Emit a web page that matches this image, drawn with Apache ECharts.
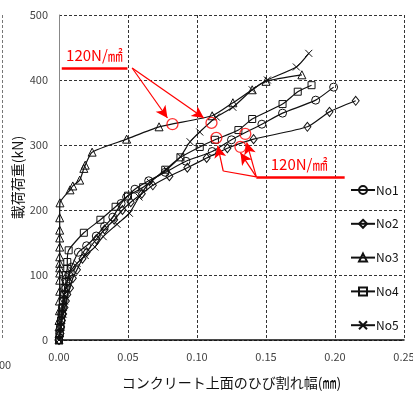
<!DOCTYPE html>
<html>
<head>
<meta charset="utf-8">
<script src="https://cdn.jsdelivr.net/npm/echarts@6/dist/echarts.min.js"></script>
<style>
html,body{margin:0;padding:0;background:#fff;}
#main{width:413px;height:398px;}
</style>
</head>
<body>
<div id="main"></div>
<script>
// ひび割れ幅(mm) - 荷重(kN)
var no1 = [[0,0],[0.0005,10],[0.001,20],[0.0015,30],[0.002,40],[0.0025,50],[0.003,60],[0.004,70],[0.005,80],[0.006,90],[0.007,100],
  [0.009,112],[0.014,135],[0.020,145],[0.027,160],[0.033,175],[0.039,189],[0.045,210],[0.049,220],[0.055,232],[0.065,245],
  [0.077,258],[0.092,275],[0.111,290],[0.125,308],[0.147,332],[0.162,349],[0.186,369],[0.199,389]];
var no2 = [[0,0],[0.001,10],[0.0015,20],[0.002,30],[0.003,40],[0.004,50],[0.005,60],[0.006,70],[0.008,80],[0.010,95],
  [0.013,108],[0.017,125],[0.020,135],[0.027,155],[0.033,170],[0.040,185],[0.046,200],[0.052,212],[0.060,225],[0.068,238],
  [0.080,252],[0.093,265],[0.107,280],[0.122,295],[0.141,309],[0.180,328],[0.196,351],[0.215,368]];
var no3 = [[0,0],[0,10],[0,20],[0,30],[0.0003,45],[0.0003,60],[0.0005,75],[0.0005,92],[0.0005,103],[0.0005,111],[0.0005,118],
  [0.0005,128],[0.0005,143],[0.0005,157],[0.0005,169],[0.0005,188],[0.0007,211],[0.008,231],[0.010,237],[0.015,246],
  [0.018,264],[0.019,269],[0.024,289],[0.049,309],[0.0725,328],[0.111,345],[0.126,365],[0.140,385],[0.150,398],[0.176,408]];
var no4 = [[0,0],[0.0005,10],[0.001,20],[0.0015,30],[0.002,40],[0.0025,50],[0.003,60],[0.0035,70],[0.004,80],[0.005,90],
  [0.005,100],[0.006,110],[0.006,120],[0.007,138],[0.018,165],[0.030,185],[0.041,205],[0.050,222],[0.061,235],[0.077,262],
  [0.088,281],[0.102,297],[0.113,308],[0.130,323],[0.140,340],[0.162,363],[0.173,382],[0.183,392]];
var no5 = [[0,0],[0.001,10],[0.0015,20],[0.002,30],[0.003,40],[0.003,50],[0.004,60],[0.004,70],[0.005,80],[0.006,90],
  [0.007,100],[0.009,108],[0.013,118],[0.019,130],[0.026,143],[0.032,159],[0.042,178],[0.051,195],[0.058,220],[0.066,243],
  [0.078,262],[0.088,282],[0.095,305],[0.102,320],[0.114,343],[0.126,358],[0.140,385],[0.151,400],[0.172,420],[0.181,441]];

// 120N/mm2 に達した点
var redPoints = [[0.0822,332],[0.1105,334],[0.114,311],[0.1315,297],[0.135,317]];

var seriesNames = ['No1','No2','No3','No4','No5'];
var seriesData = [no1, no2, no3, no4, no5];
var symbols = ['circle','diamond','triangle','rect','path://M0,0L10,10M10,0L0,10'];
var symbolSizes = [8,[7,9],8,7,7];

var myChart = echarts.init(document.getElementById('main'));

var series = seriesData.map(function(d, i){
  return {
    name: seriesNames[i],
    type: 'line',
    data: d,
    smooth: 0.2,
    symbol: symbols[i],
    symbolSize: symbolSizes[i],
    showAllSymbol: true,
    lineStyle: {color: '#111', width: 1.2},
    itemStyle: {color: 'rgba(255,255,255,0)', borderColor: '#111', borderWidth: 1},
    emphasis: {disabled: true},
    z: 2
  };
});

var red = '#f00';
series.push({
  name: 'red',
  type: 'scatter',
  data: redPoints,
  symbol: 'circle',
  symbolSize: 11,
  itemStyle: {color: 'rgba(255,255,255,0)', borderColor: red, borderWidth: 1.3},
  silent: true,
  z: 5,
  markLine: {
    silent: true,
    symbol: ['none','arrow'],
    symbolSize: [9, 12],
    label: {show: false},
    lineStyle: {color: red, width: 1.2, type: 'solid'},
    data: [
      [{coord:[0.002,418.5], symbol:'none', lineStyle:{width:2.5}}, {coord:[0.0496,418.5], symbol:'none'}],
      [{coord:[0.053,418.5]}, {coord:[0.0786,341.5]}],
      [{coord:[0.053,418.5]}, {coord:[0.105,341.5]}],
      [{coord:[0.143,251], symbol:'none', lineStyle:{width:2.5}}, {coord:[0.207,251], symbol:'none'}],
      [{coord:[0.143,251]}, {coord:[0.119,260], symbol:'none'}],
      [{coord:[0.119,260]}, {coord:[0.115,299]}],
      [{coord:[0.143,251]}, {coord:[0.1315,288]}],
      [{coord:[0.143,251]}, {coord:[0.136,304]}]
    ]
  },
  markPoint: {
    silent: true,
    symbol: 'circle',
    symbolSize: 1,
    itemStyle: {color: 'rgba(0,0,0,0)'},
    label: {
      show: true, position: 'inside', color: red,
      fontFamily: 'Noto Sans CJK JP', fontSize: 15,
      formatter: '120N/㎟'
    },
    data: [{coord:[0.0257,438]}, {coord:[0.174,271]}]
  }
});

option = {
  backgroundColor: '#fff',
  animation: false,
  textStyle: {fontFamily: 'Noto Sans CJK JP'},
  grid: {left: 59, right: 9, top: 15, bottom: 58, outerBoundsMode: 'none'},
  legend: {
    orient: 'vertical',
    left: 345,
    top: 179,
    itemGap: 21.8,
    itemWidth: 24,
    itemHeight: 10,
    data: seriesNames,
    textStyle: {fontSize: 12, color: '#111', fontFamily: 'Noto Sans CJK JP', padding: [0,0,0,-4]}
  },
  xAxis: {
    type: 'value',
    min: 0, max: 0.25, interval: 0.05,
    name: 'コンクリート上面のひび割れ幅(㎜)',
    nameLocation: 'middle',
    nameGap: 36,
    nameTextStyle: {fontSize: 14, color: '#111'},
    axisLine: {show: true, onZero: false, lineStyle: {color: '#111', width: 1.5}},
    axisTick: {show: false},
    axisLabel: {fontSize: 11, color: '#444', margin: 11,
      formatter: function(v){ return v.toFixed(2); }},
    splitLine: {show: true, lineStyle: {color: '#333', type: [3,2], width: 1}}
  },
  yAxis: {
    type: 'value',
    min: 0, max: 500, interval: 100,
    name: '載荷荷重(kN)',
    nameLocation: 'middle',
    nameRotate: 90,
    nameGap: 34,
    nameMoveOverlap: false,
    nameTextStyle: {fontSize: 14, color: '#111'},
    axisLine: {show: true, lineStyle: {color: '#888', width: 1}},
    axisTick: {show: false},
    axisLabel: {fontSize: 11, color: '#444', margin: 11},
    splitLine: {show: true, lineStyle: {color: '#333', type: [3,2], width: 1}}
  },
  graphic: [
    {type: 'line', shape: {x1: 2.5, y1: 15, x2: 2.5, y2: 340}, silent: true,
      style: {stroke: '#777', lineWidth: 1, lineDash: [3,2]}},
    {type: 'text', left: -1, top: 359, silent: true,
      style: {text: '00', fill: '#444', font: '11px "Noto Sans CJK JP"'}}
  ],
  series: series
};

myChart.setOption(option, true);
</script>
</body>
</html>
